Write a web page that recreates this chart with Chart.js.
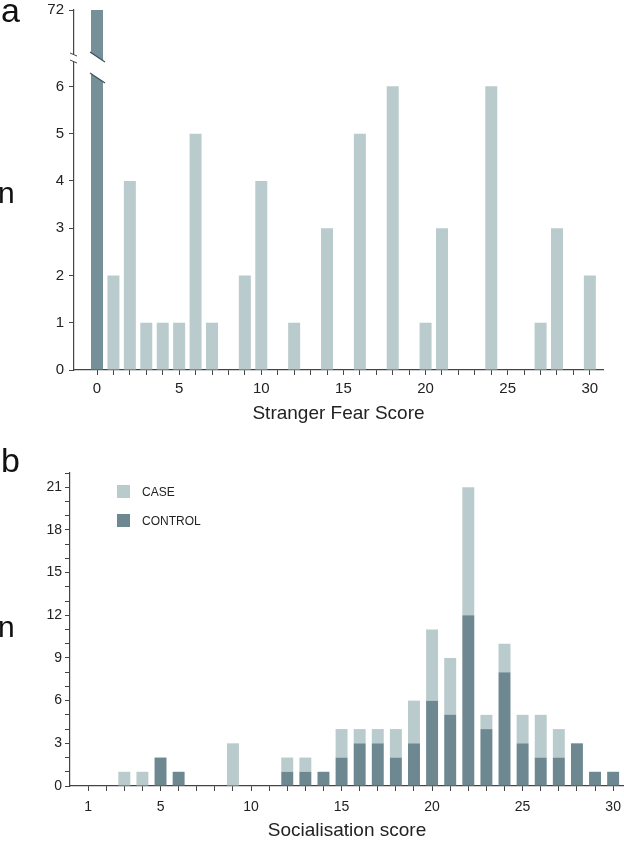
<!DOCTYPE html>
<html lang="en">
<head>
<meta charset="UTF-8">
<meta name="viewport" content="width=device-width, initial-scale=1.0">
<title>Stranger fear and socialisation</title>
<style>
    * {
        margin: 0;
        padding: 0;
        font-family: 'Liberation Sans', Arial, Helvetica, sans-serif;
    }
    body { width: 624px; height: 846px; position: relative; background: #fff; overflow: hidden; }
    .wrap { position: absolute; left: 0; width: 624px; }
    .tag { position: absolute; color: #111; line-height: 1; }
    #legend { position: absolute; left: 117px; top: 485px; font-size: 12px; color: #222; }
    #legend .item { display: flex; align-items: center; height: 13px; margin-bottom: 16px; }
    #legend .sw { width: 13px; height: 13px; margin-right: 12px; }
</style>
</head>
<body>
    <div class="wrap" style="top:0;height:440px;"><canvas id="fearChart"></canvas></div>
    <div class="wrap" style="top:440px;height:406px;"><canvas id="socChart"></canvas></div>

    <div class="tag" style="left:1px;top:-7px;font-size:34px;">a</div>
    <div class="tag" style="left:-2px;top:178px;font-size:30px;">n</div>
    <div class="tag" style="left:1px;top:443px;font-size:34px;">b</div>
    <div class="tag" style="left:-2px;top:612px;font-size:30px;">n</div>
    <div id="legend"></div>
</body>
<script src="https://cdn.jsdelivr.net/npm/chart.js@4.4.1/dist/chart.umd.min.js"></script>
<script>
    // panel a: stranger fear score
    const fearScores = [0, 1, 2, 3, 4, 5, 6, 7, 8, 9, 10, 11, 12, 13, 14, 15, 16, 17, 18, 19, 20, 21, 22, 23, 24, 25, 26, 27, 28, 29, 30];
    const fearCounts = [72, 2, 4, 1, 1, 1, 5, 1, 0, 2, 4, 0, 1, 0, 3, 0, 5, 0, 6, 0, 1, 3, 0, 0, 6, 0, 0, 1, 3, 0, 2];
    const fearLowTicks = [0, 1, 2, 3, 4, 5, 6];
    const fearHighTicks = [72];

    // panel b: socialisation score
    const socScores = [1, 2, 3, 4, 5, 6, 7, 8, 9, 10, 11, 12, 13, 14, 15, 16, 17, 18, 19, 20, 21, 22, 23, 24, 25, 26, 27, 28, 29, 30];
    const controlCounts = [0, 0, 0, 0, 2, 1, 0, 0, 0, 0, 0, 1, 1, 1, 2, 3, 3, 2, 3, 6, 5, 12, 4, 8, 3, 2, 2, 3, 1, 1];
    const caseCounts = [0, 0, 1, 1, 0, 0, 0, 0, 3, 0, 0, 1, 1, 0, 2, 1, 1, 2, 3, 5, 4, 9, 1, 2, 2, 3, 2, 0, 0, 0];
    const groupNames = ['CASE', 'CONTROL'];

    const lightCol = '#b9cbcc';
    const darkCol = '#6e8892';
    const zeroCol = '#76909a';
    const axisCol = '#444';
    const lowMax = 6.6;

    const breakMarks = {
        id: 'breakMarks',
        afterDatasetsDraw(chart) {
            const ctx = chart.ctx;
            const low = chart.scales.yLow;
            const yb = low.top;
            const bar = chart.getDatasetMeta(1).data[0];
            ctx.save();
            if (bar) {
                const l = bar.x - bar.width / 2 - 1, r = bar.x + bar.width / 2 + 2;
                ctx.fillStyle = '#fff';
                ctx.beginPath();
                ctx.moveTo(l, yb - 6);
                ctx.lineTo(r, yb + 4);
                ctx.lineTo(r, yb + 25);
                ctx.lineTo(l, yb + 15);
                ctx.closePath();
                ctx.fill();
                ctx.strokeStyle = '#3e5058';
                ctx.lineWidth = 1.2;
                ctx.beginPath();
                ctx.moveTo(l, yb - 6); ctx.lineTo(r, yb + 4);
                ctx.moveTo(l, yb + 15); ctx.lineTo(r, yb + 25);
                ctx.stroke();
            }
            const ax = low.right;
            ctx.fillStyle = '#fff';
            ctx.fillRect(ax - 2, yb - 4, 4, 8);
            ctx.strokeStyle = axisCol;
            ctx.lineWidth = 1;
            ctx.beginPath();
            ctx.moveTo(ax - 4, yb - 5); ctx.lineTo(ax + 3, yb - 2);
            ctx.moveTo(ax - 4, yb + 2); ctx.lineTo(ax + 3, yb + 5);
            ctx.stroke();
            ctx.restore();
        }
    };

    const fontFam = "'Liberation Sans', Arial, sans-serif";
    const tickFont = { family: fontFam, size: 15 };
    const titleFont = { family: fontFam, size: 19 };
    const noPadX = s => { s.paddingLeft = 0; s.paddingRight = 0; };
    const noPadY = s => { s.paddingTop = 0; s.paddingBottom = 0; };

    new Chart('fearChart', {
        type: 'bar',
        data: {
            datasets: [{
                label: 'n',
                data: fearScores.map((s, i) => ({ x: s, y: fearCounts[i] })),
                backgroundColor: fearScores.map(s => s === 0 ? zeroCol : lightCol),
                yAxisID: 'yLow',
                grouped: false,
                categoryPercentage: 1,
                barPercentage: 0.73
            }, {
                label: 'n (broken)',
                data: fearScores.map((s, i) => ({ x: s, y: fearCounts[i] })).filter(p => p.y > lowMax),
                backgroundColor: zeroCol,
                yAxisID: 'yHigh',
                grouped: false,
                categoryPercentage: 1,
                barPercentage: 0.73
            }]
        },
        options: {
            responsive: true,
            maintainAspectRatio: false,
            animation: false,
            layout: { autoPadding: false, padding: { top: 10, right: 21, left: 0, bottom: 0 } },
            plugins: { legend: { display: false }, tooltip: { enabled: false } },
            scales: {
                x: {
                    type: 'linear',
                    offset: false,
                    min: -1.4,
                    max: 30.8,
                    afterFit: s => { s.height = 70; noPadX(s); },
                    afterBuildTicks: s => { s.ticks = s.ticks.filter(t => t.value >= 0 && t.value <= 30); },
                    border: { color: axisCol, width: 1.2 },
                    grid: { offset: false, drawOnChartArea: false, drawTicks: true, tickLength: 5, tickColor: axisCol },
                    ticks: {
                        stepSize: 1,
                        includeBounds: false,
                        autoSkip: false,
                        maxRotation: 0,
                        padding: 5,
                        color: '#222',
                        font: tickFont,
                        callback: v => v % 5 === 0 ? v : ''
                    },
                    title: { display: true, text: 'Stranger Fear Score', color: '#222', font: titleFont, padding: { top: 0, bottom: 15 } }
                },
                yLow: {
                    type: 'linear',
                    position: 'left',
                    stack: 'fear',
                    stackWeight: 312,
                    min: 0,
                    max: lowMax,
                    afterFit: s => { s.width = 74; noPadY(s); },
                    afterBuildTicks: s => { s.ticks = fearLowTicks.map(v => ({ value: v })); },
                    border: { color: axisCol, width: 1.2 },
                    grid: { drawOnChartArea: false, tickLength: 5, tickColor: axisCol },
                    ticks: { color: '#222', font: tickFont, padding: 5 }
                },
                yHigh: {
                    type: 'linear',
                    position: 'left',
                    stack: 'fear',
                    stackWeight: 48,
                    min: 71,
                    max: 72,
                    afterFit: s => { s.width = 74; noPadY(s); },
                    afterBuildTicks: s => { s.ticks = fearHighTicks.map(v => ({ value: v })); },
                    border: { color: axisCol, width: 1.2 },
                    grid: { drawOnChartArea: false, tickLength: 5, tickColor: axisCol },
                    ticks: { color: '#222', font: tickFont, padding: 5 }
                }
            }
        },
        plugins: [breakMarks]
    });

    const socChart = new Chart('socChart', {
        type: 'bar',
        data: {
            datasets: [{
                label: groupNames[1],
                data: socScores.map((s, i) => ({ x: s, y: controlCounts[i] })),
                backgroundColor: darkCol,
                categoryPercentage: 1,
                barPercentage: 0.66
            }, {
                label: groupNames[0],
                data: socScores.map((s, i) => ({ x: s, y: caseCounts[i] })),
                backgroundColor: lightCol,
                categoryPercentage: 1,
                barPercentage: 0.66
            }]
        },
        options: {
            responsive: true,
            maintainAspectRatio: false,
            animation: false,
            layout: { autoPadding: false, padding: { top: 33, right: 0, left: 0, bottom: 0 } },
            plugins: { legend: { display: false }, tooltip: { enabled: false } },
            scales: {
                x: {
                    type: 'linear',
                    offset: false,
                    stacked: true,
                    min: 0,
                    max: 30.6,
                    afterFit: s => { s.height = 60; noPadX(s); },
                    afterBuildTicks: s => { s.ticks = s.ticks.filter(t => t.value >= 1); },
                    border: { color: axisCol, width: 1.2 },
                    grid: { offset: false, drawOnChartArea: false, drawTicks: true, tickLength: 5, tickColor: axisCol },
                    ticks: {
                        stepSize: 1,
                        includeBounds: false,
                        autoSkip: false,
                        maxRotation: 0,
                        padding: 8,
                        color: '#222',
                        font: { family: fontFam, size: 14 },
                        callback: v => (v === 1 || v % 5 === 0) ? v : ''
                    },
                    title: { display: true, text: 'Socialisation score', color: '#222', font: titleFont, padding: { top: 0, bottom: 4 } }
                },
                y: {
                    type: 'linear',
                    stacked: true,
                    min: 0,
                    max: 22,
                    afterFit: s => { s.width = 70; noPadY(s); },
                    border: { color: axisCol, width: 1.2 },
                    grid: { drawOnChartArea: false, tickLength: 5, tickColor: axisCol },
                    ticks: {
                        stepSize: 1,
                        autoSkip: false,
                        padding: 3,
                        color: '#222',
                        font: { family: fontFam, size: 14 },
                        callback: v => v % 3 === 0 ? v : ''
                    }
                }
            }
        }
    });

    // legend, CASE first
    const legend = document.getElementById('legend');
    socChart.data.datasets.slice().reverse().forEach(ds => {
        const item = document.createElement('div');
        item.className = 'item';
        item.innerHTML = '<span class="sw" style="background:' + ds.backgroundColor + '"></span><span>' + ds.label + '</span>';
        legend.appendChild(item);
    });
</script>
</html>
